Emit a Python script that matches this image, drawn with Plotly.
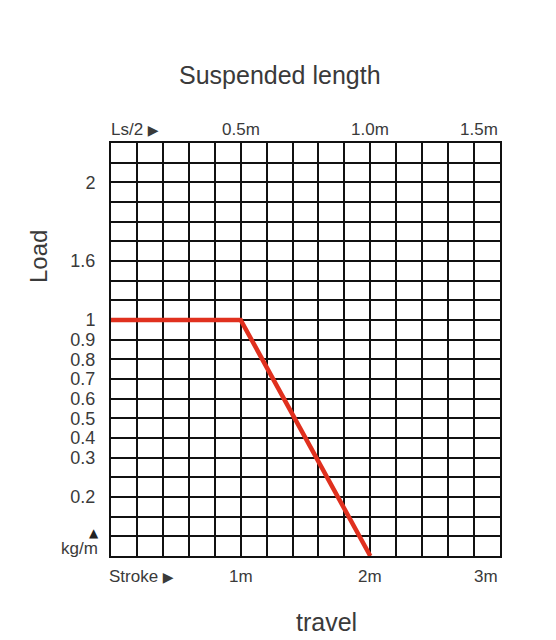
import numpy as np
import plotly.graph_objects as go

# ---- data ----
stroke_m = [0.0, 1.0, 2.0]          # travel (stroke) in metres
load_kgm = [1.0, 1.0, 0.0]          # load in kg/m

# y-axis tick labels and the grid rows they sit on (non-linear scale)
y_tick_labels = ["0.2", "0.3", "0.4", "0.5", "0.6", "0.7", "0.8", "0.9", "1", "1.6", "2"]
y_tick_loads = [0.2, 0.3, 0.4, 0.5, 0.6, 0.7, 0.8, 0.9, 1.0, 1.6, 2.0]
y_tick_rows = [3, 5, 6, 7, 8, 9, 10, 11, 12, 15, 19]
n_rows = 21

# bottom axis (stroke) and top axis (suspended length Ls/2)
stroke_ticks = [1.0, 2.0, 3.0]
stroke_labels = ["1m", "2m", "3m"]
ls_half_ticks = [0.5, 1.0, 1.5]
ls_half_labels = ["0.5m", "1.0m", "1.5m"]

# scale load -> grid row (piecewise, anchored at 0 at the bottom)
scale_loads = [0.0] + y_tick_loads
scale_rows = [0] + y_tick_rows


def load_to_row(v):
    return np.interp(v, scale_loads, scale_rows)


FONT = "Liberation Sans, Arial, Helvetica, sans-serif"
TXT = "#3a3a3a"
W, H = 556, 640
L, R, T, B = 111, 56, 143, 84
pw, ph = W - L - R, H - T - B


def px_x(x):
    return (x - L) / pw


def px_y(y):
    return (H - B - y) / ph


fig = go.Figure()
fig.add_trace(go.Scatter(
    x=stroke_m, y=load_to_row(np.array(load_kgm)),
    mode="lines", line=dict(color="#e0301e", width=4.5),
    hoverinfo="skip", showlegend=False,
))

TRI = "<span style='font-size:14px;font-family:DejaVu Sans'>▶</span>"
ann = []
# top axis labels (Ls/2)
ann.append(dict(text="Ls/2 " + TRI, x=px_x(109), y=px_y(130),
                xref="paper", yref="paper", xanchor="left", yanchor="middle",
                showarrow=False, font=dict(size=17, color=TXT, family=FONT)))
for i, (v, lab) in enumerate(zip(ls_half_ticks, ls_half_labels)):
    ann.append(dict(text=lab, x=v * 2, y=px_y(130), xref="x", yref="paper",
                    xanchor="right" if i == len(ls_half_ticks) - 1 else "center",
                    yanchor="middle", showarrow=False,
                    font=dict(size=17, color=TXT, family=FONT)))
# bottom axis labels (Stroke)
ann.append(dict(text="Stroke " + TRI, x=px_x(107), y=px_y(576),
                xref="paper", yref="paper", xanchor="left", yanchor="middle",
                showarrow=False, font=dict(size=17, color=TXT, family=FONT)))
for i, (v, lab) in enumerate(zip(stroke_ticks, stroke_labels)):
    ann.append(dict(text=lab, x=v, y=px_y(576), xref="x", yref="paper",
                    xanchor="right" if i == len(stroke_ticks) - 1 else "center",
                    yanchor="middle", showarrow=False,
                    font=dict(size=17, color=TXT, family=FONT)))
# unit label
ann.append(dict(text="▲", x=px_x(94), y=px_y(533), xref="paper", yref="paper",
                xanchor="center", yanchor="middle", showarrow=False,
                font=dict(size=12, color="#222", family="DejaVu Sans")))
ann.append(dict(text="kg/m", x=px_x(100), y=px_y(548), xref="paper", yref="paper",
                xanchor="right", yanchor="middle", showarrow=False,
                font=dict(size=17, color=TXT, family=FONT)))
# titles
ann.append(dict(text="Suspended length", x=px_x(280), y=px_y(75), xref="paper", yref="paper",
                xanchor="center", yanchor="middle", showarrow=False,
                font=dict(size=25, color=TXT, family=FONT)))
ann.append(dict(text="Load", x=px_x(38), y=px_y(257), xref="paper", yref="paper",
                xanchor="center", yanchor="middle", showarrow=False, textangle=-90,
                font=dict(size=24, color=TXT, family=FONT)))
ann.append(dict(text="travel", x=px_x(326), y=px_y(622), xref="paper", yref="paper",
                xanchor="center", yanchor="middle", showarrow=False,
                font=dict(size=25, color=TXT, family=FONT)))

fig.update_layout(
    width=W, height=H,
    margin=dict(l=L, r=R, t=T, b=B, pad=0),
    paper_bgcolor="white", plot_bgcolor="white",
    showlegend=False,
    annotations=ann,
    xaxis=dict(range=[0, 3], tickmode="linear", tick0=0, dtick=0.2,
               showgrid=True, gridcolor="#111", gridwidth=2,
               showticklabels=False, ticks="", zeroline=False,
               showline=True, linecolor="#111", linewidth=2, mirror=True,
               fixedrange=True),
    yaxis=dict(range=[0, n_rows], tickmode="array", tickvals=y_tick_rows,
               ticktext=y_tick_labels, ticks="", ticklabelstandoff=10,
               tickfont=dict(size=18, color=TXT, family=FONT),
               showgrid=True, gridcolor="#111", gridwidth=2,
               minor=dict(tickmode="linear", tick0=0, dtick=1, showgrid=True,
                          gridcolor="#111", gridwidth=2, ticks=""),
               zeroline=False,
               showline=True, linecolor="#111", linewidth=2, mirror=True,
               fixedrange=True),
)

fig.write_html("out.html", config={"displayModeBar": False},
               post_script="document.body.style.margin='0';")
